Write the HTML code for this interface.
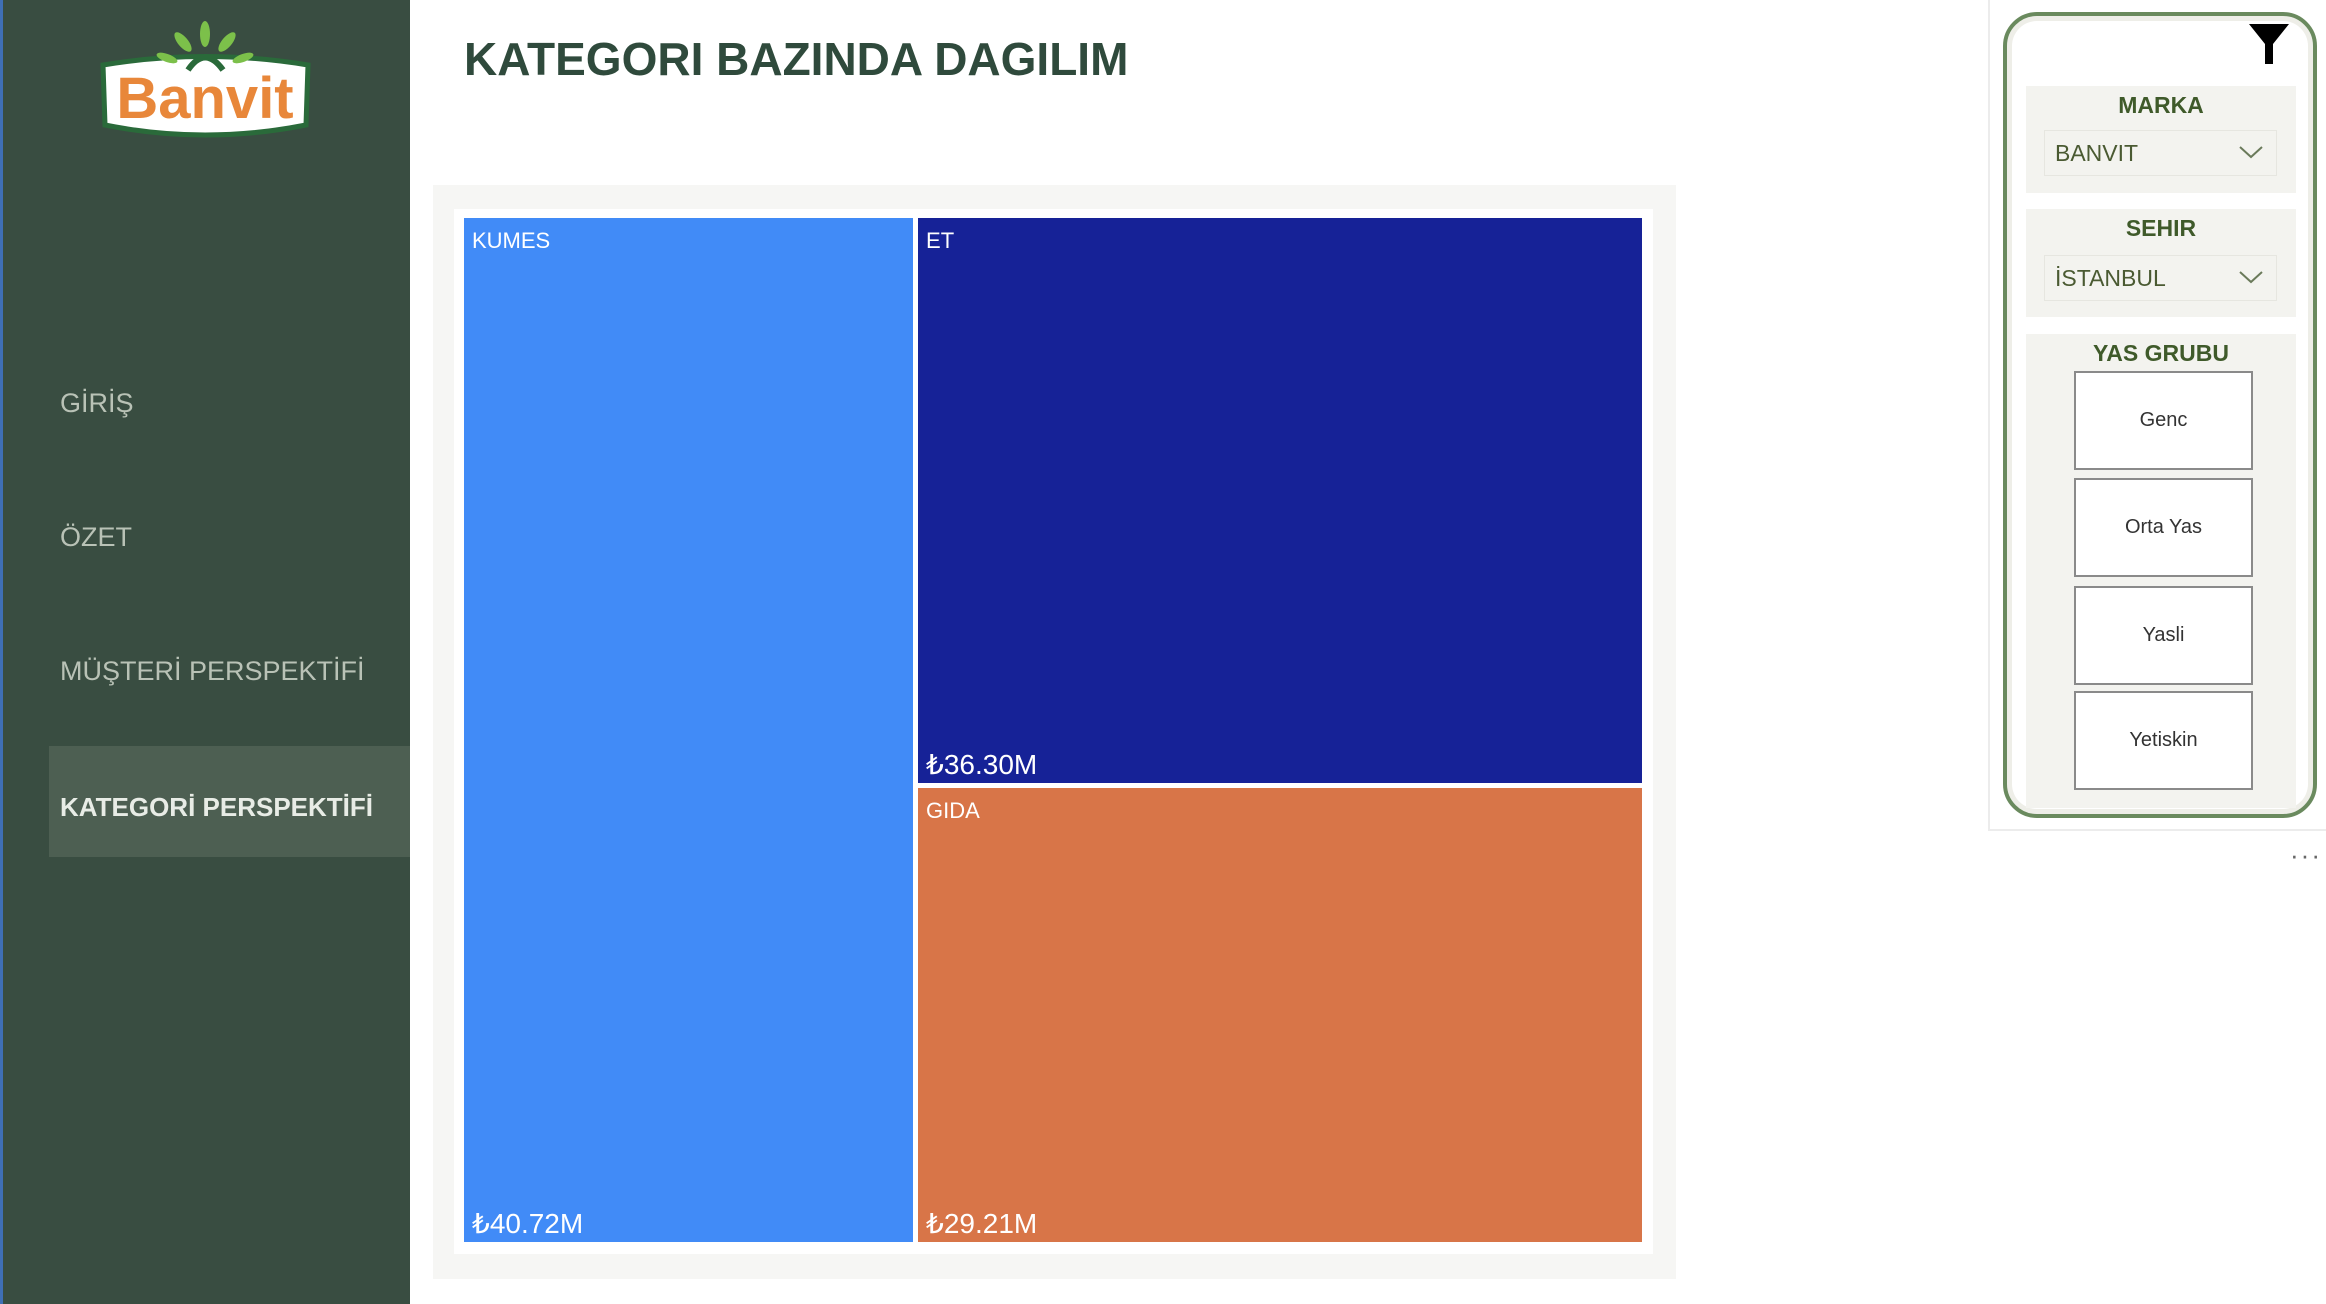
<!DOCTYPE html>
<html><head><meta charset="utf-8">
<style>
*{margin:0;padding:0;box-sizing:border-box}
body{width:2326px;height:1304px;position:relative;background:#fff;font-family:"Liberation Sans","DejaVu Sans",sans-serif;overflow:hidden}
.abs{position:absolute}
#sidebar{left:0;top:0;width:410px;height:1304px;background:#394d41;border-left:3px solid #3f6fb5}
.nav{position:absolute;left:57px;color:#b9c2b6;font-size:27px;line-height:40px;white-space:nowrap}
#title{left:464px;top:32px;font-size:46px;font-weight:bold;color:#2f4a3c;white-space:nowrap}
.sec{position:absolute;left:2026px;width:270px;background:#f3f3ef}
.sec h4{text-align:center;color:#3f5a2a;font-size:23px;font-weight:bold;margin-top:6px}
.dd{position:absolute;left:18px;width:233px;height:46px;border:1px solid #e6e6e0;color:#4a5a32;font-size:23px;line-height:44px;padding-left:10px}
.dd svg{position:absolute;right:12px;top:12px}
.btn{position:absolute;left:2074px;width:179px;height:99px;background:#fff;border:2px solid #8a8a8a;text-align:center;font-size:20px;color:#333}
.tl{position:absolute;color:#fff;font-size:22px}
.tv{position:absolute;color:#fff;font-size:28px}
</style></head><body>
<div id="sidebar" class="abs">
  <svg class="abs" style="left:90px;top:20px" width="225" height="135">
    <path d="M10 45 Q112 28 215 45 L213 105 Q112 125 12 105 Z" fill="#fff" stroke="#2a6a3a" stroke-width="5"/>
    <path d="M95 50 Q112 25 130 50" fill="none" stroke="#2a6a3a" stroke-width="6"/>
    <g fill="#7cc04a"><ellipse cx="112" cy="14" rx="5" ry="13"/><ellipse cx="90" cy="22" rx="5" ry="12" transform="rotate(-40 90 22)"/><ellipse cx="134" cy="22" rx="5" ry="12" transform="rotate(40 134 22)"/><ellipse cx="74" cy="38" rx="4" ry="11" transform="rotate(-70 74 38)"/><ellipse cx="150" cy="38" rx="4" ry="11" transform="rotate(70 150 38)"/></g>
    <text x="112" y="98" text-anchor="middle" font-family="Liberation Sans" font-weight="bold" font-size="58" fill="#e8873a">Banvit</text>
  </svg>
  <div class="nav" style="top:383px">GİRİŞ</div>
  <div class="nav" style="top:517px">ÖZET</div>
  <div class="nav" style="top:651px">MÜŞTERİ PERSPEKTİFİ</div>
  <div class="abs" style="left:46px;top:746px;width:361px;height:111px;background:#4d5f52"></div>
  <div class="nav" style="top:787px;color:#e8ece6;font-weight:bold;font-size:26px">KATEGORİ PERSPEKTİFİ</div>
</div>
<div id="title" class="abs">KATEGORI BAZINDA DAGILIM</div>
<div class="abs" style="left:433px;top:185px;width:1243px;height:1094px;background:#f6f6f4"></div>
<div class="abs" style="left:454px;top:209px;width:1199px;height:1045px;background:#fff"></div>
<div id="treemap" class="abs" style="left:464px;top:218px;width:1178px;height:1024px"></div>

<div class="abs" style="left:1988px;top:0;width:2px;height:831px;background:#ececec"></div>
<div class="abs" style="left:1988px;top:829px;width:338px;height:2px;background:#ececec"></div>
<div class="abs" style="left:2003px;top:12px;width:314px;height:806px;border:4px solid #6a8a5e;border-radius:34px;background:#fff;box-shadow:inset 0 0 0 5px #eeeee8"></div>
<svg class="abs" style="left:2247px;top:22px" width="44" height="44"><path d="M2 2 H42 L26 22 V42 H18 V22 Z" fill="#000"/></svg>

<div class="sec" style="top:86px;height:107px"><h4>MARKA</h4>
  <div class="dd" style="top:44px">BANVIT<svg width="26" height="18"><path d="M2 4 L13 14 L24 4" fill="none" stroke="#6a7a5a" stroke-width="2"/></svg></div></div>
<div class="sec" style="top:209px;height:108px"><h4>SEHIR</h4>
  <div class="dd" style="top:46px">İSTANBUL<svg width="26" height="18"><path d="M2 4 L13 14 L24 4" fill="none" stroke="#6a7a5a" stroke-width="2"/></svg></div></div>
<div class="sec" style="top:334px;height:474px"><h4>YAS GRUBU</h4></div>
<div class="btn" style="top:371px;line-height:95px">Genc</div>
<div class="btn" style="top:478px;line-height:95px">Orta Yas</div>
<div class="btn" style="top:586px;line-height:95px">Yasli</div>
<div class="btn" style="top:691px;line-height:95px">Yetiskin</div>
<div class="abs" style="left:2290px;top:840px;font-size:26px;color:#666;letter-spacing:2px">···</div>

<script>
const categories = ["KUMES", "ET", "GIDA"];
const values = [40.72, 36.30, 29.21];
const valueLabels = ["₺40.72M", "₺36.30M", "₺29.21M"];
const colors = ["#418bf7", "#162297", "#d87548"];
const tm = document.getElementById('treemap');
const W = 1178, H = 1024, gap = 5;
const total = values.reduce((a,b)=>a+b,0);
const w0 = W * values[0] / total;
const restH = H * values[1] / (values[1] + values[2]);
const rects = [
  [0, 0, w0 - gap/2, H],
  [w0 + gap/2, 0, W - w0 - gap/2, restH - gap/2],
  [w0 + gap/2, restH + gap/2, W - w0 - gap/2, H - restH - gap/2]
];
rects.forEach((r, i) => {
  const d = document.createElement('div');
  
  
  d.style.cssText = `position:absolute;left:${r[0]}px;top:${r[1]}px;width:${r[2]}px;height:${r[3]}px;background:${colors[i]}`;
  const l = document.createElement('div');
  l.className = 'tl';
  
  
  l.style.left = '8px'; l.style.top = '10px';
  l.textContent = categories[i];
  const v = document.createElement('div');
  v.className = 'tv';
  
  
  v.style.left = '8px'; v.style.bottom = '2px';
  v.textContent = valueLabels[i];
  d.appendChild(l); d.appendChild(v);
  tm.appendChild(d);
});
</script>
</body></html>
